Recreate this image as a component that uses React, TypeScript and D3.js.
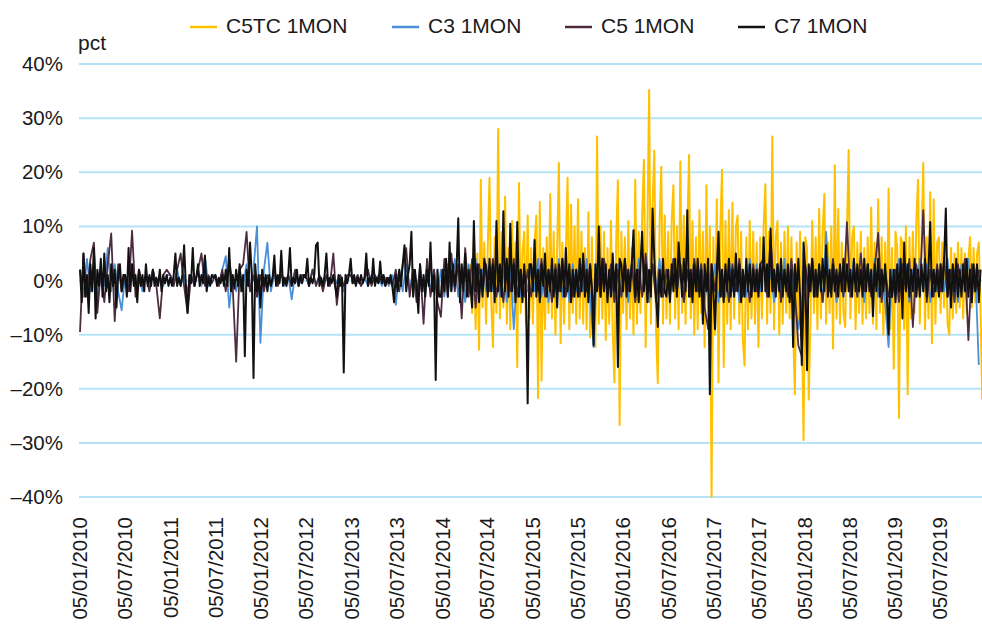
import React, { useEffect, useRef } from "react";
import * as d3 from "d3";

// x-axis tick dates (dd/mm/yyyy labels)
const tickDates = [
  "2010-01-05", "2010-07-05", "2011-01-05", "2011-07-05", "2012-01-05",
  "2012-07-05", "2013-01-05", "2013-07-05", "2014-01-05", "2014-07-05",
  "2015-01-05", "2015-07-05", "2016-01-05", "2016-07-05", "2017-01-05",
  "2017-07-05", "2018-01-05", "2018-07-05", "2019-01-05", "2019-07-05",
];
const yTicks = [40, 30, 20, 10, 0, -10, -20, -30, -40];

// series start dates and sampling step (days)
const firstDay = "2010-01-05";
const c5tcFirstDay = "2014-04-29";

// C5TC 1MON, weekly, from Apr 2014 (one line per half-year)
const c5tc = [
  3, -6, 8, -9, 5, -12.8, 18.6, -5, 7, -8,
  6, 19, -4, -12.3, 8, -6, 28, -7, 9, -5, 15.5, -8, 6, -9, 11, -4, 7, -16, 18, -6, 5, 9, -8, 12, -7, 6,
  -8, 7, 12, -21.7, 14.5, -18.5, 6, -9, 8, -6, 16, -7, 9, -10, 6, 21.7, -11.6, 7, -8, 5, 19, -9, 14, -6, 10, -8,
  15, -7, 9, -8, 6, -9, 12.6, -10.5, 8, -6, -12.3, 26.6, -8, 10, -7, 9, -11, 6, -8, 11, -9, -18.8, 7, 18.5, -26.7, 9,
  -6, 8, -9, 11, -7, 6, -10, 18.6, -8, 9, -6, 12, 22.3, -12.3, 9, 35.2, -8, 14, 24, -9, -19, 10, 21, -8, 12, -7,
  9, -8, 11, 17.6, -7, 10, -9, 22, -6, 12, -8, 9, 23.2, -7, 11, -10, 8, -9, 13, -6, 9, -12.3, 17.6, -9, 10, -40,
  8, -10, 15, -18.8, 9, 20.4, -16, 11, -8, 13, -9, 14.4, -7, 10, 12, -8, 9, -11, -15.7, 8, -9, 11, -7, 9, -8, 7,
  -12.3, 8, -7, 10, 17.8, -8, 9, -6, 26.6, -9, 8, 11, -10, 7, -8, 9, -6, 10, -7, 8, -9, -21, 7, -8, 9, -6,
  -29.5, 8, 6, -22, -7, 11, -6, 8, -9, 13.2, -7, 9, 16, -8, 7, -6, 10, -12.6, 21.3, -7, 13.2, -8, 7, -6, -8.6, 9,
  24.1, -7, 8, 10, -9, 7, -6, 9, -8, 6, -7, 8, -6, 13.5, -8, 7, -9, 15, -6, 8, -10, 7, -8, 17, -9, 6,
  -16.3, 9, 6, -25.4, 8, 7, -9, 10, -21, 8, -7, 9, -6, 11, 18.6, -8, 7, 21.7, -9, 8, -7, 16.3, -11.6, 15, -8, 7,
  8, -6, 7, -5, 6, -8, -10, 6, -7, 5, -6, 7, -5, 6, -7, 5, -6, 4, 8, -5, 6, -4, 5, 7, -5, -22,
];

// C3 1MON, every two weeks from Jan 2010
const c3 = [
  2, -3, 4, -2, 3, -4, 2, -1, 6, -2, 3, -2, -5.5,
  1, -2, 3, -1, 1, -2, 1, -1, 2, -1, 1, -1, 1,
  1, -1, 2, -1, 1, -2, 1, -1, 2, -1, 4.5, -1, 1,
  1, -1, 2, 4.5, -5, 1, -2, 2, -1, 3, -2, 2, 10,
  -11.5, 2, 7, -2, 1, -1, 2, -1, 1, -3.5, 1, -1, 1,
  1, -1, 2, -1, 1, -1, 0.5, -1, 1, -0.5, 1, -2, 1,
  1, -0.5, 1, -1, 0.5, -1, 1, -0.5, 1, -1, 0.5, -1, 1,
  -4.5, 2, -2, 3, -2, 2, -3, 2, -2, 3, -2, 2, -3,
  2, -3, 3, -2, 4, -3, 2, -4, 3, -2, 4, -3, 2,
  -2, 3, -2, 4, -3, 2, -4, 3, -9, 2, -3, 2, -2,
  3, -2, 4, -3, 2, -4, 3, -2, 4, -3, 2, -4, 3,
  -2, 3, -2, 4, -3, -12.3, 3, -2, 4, -3, 2, -4, 3,
  -3, 2, -4, 3, -2, 4, -3, 2, -4, 3, -2, 4, -3,
  2, -3, 4, -2, 3, -4, 2, -3, 4, -2, 3, -4, 2,
  -2, 3, -4, 2, -3, 4, -2, 3, -4, 2, -3, 4, -2,
  3, -2, 4, -3, 2, -4, 3, -2, 4, -3, 2, -4, -9,
  -4, 2, -3, 4, -2, 3, -4, 9, -2, 3, -4, 2, -3,
  3, -2, 4, -3, 2, -4, 3, -2, 4, -3, 2, -4, -12.3,
  2, -3, 4, -2, 3, -4, 2, -3, 4, -2, 3, -4, 2,
  -2, 3, -2, 4, -3, 2, -4, 3, -2, 4, -3, 2, -15.6,
];

// C5 1MON, every two weeks from Jan 2010
const c5 = [
  -9.5, 5, -3, 4, 7, -6, 2, -4, 3, 8.7, -7.5, 3, -2,
  1, -2, 9.2, -3, 2, -1, 1, -2, 2, -1, -7, 1, 2,
  1, -1, 2, 5, -1, -6, 1, -1, 2, 5, -1, 1, -0.5,
  1, -1, 2, -2, 4, -1, -15, 2, 3, 9, -2, 1, -3,
  1, -2, 1, -1, 2, -1, 1, -0.5, 1, -1, 2, -1, 1,
  1, -1, 2, -1, 1, -2, 1, -1, 5, -4.5, 1, -1, 1,
  1, -0.5, 1, -1, 0.5, 2, -1, 1, -0.5, 1, -1, 0.5, -1,
  2, -2, 3, 6, -3, 2, -4, 3, -8, 4, -3, 2, -4,
  -6.7, 4, -3, 5, -2, 3, -7, 6, -3, 4, -5, 3, -2,
  3, -2, 4, -3, 2, -4, 3, -2, 4, -3, 2, -3, 2,
  -3, 2, -2, 4, -3, 2, -4, 3, -2, 4, -3, 2, -3,
  2, -3, 4, -2, 3, -5, 2, -3, 4, -2, 3, -4, 2,
  -3, 4, -2, 3, -4, 2, -3, 5, -2, 3, -4, 2, -3,
  2, -3, 4, -2, 3, -4, 2, -3, 4, -2, 3, -5, -9,
  3, -2, 4, -3, 2, -4, 3, -2, 4, -3, 2, -4, 3,
  -2, 3, 4, -3, 8, -2, 3, -4, 2, -3, 4, -2, -12,
  -14, 3, -2, 4, -3, 2, -4, 3, -2, 4, -3, 2, -3,
  10.8, -3, 2, -3, 5, -2, 3, -3, 2, 8.8, -4, 2, -3,
  -3, 2, -4, 3, -2, 4, -8.6, 3, -2, 13, -4, 2, -3,
  3, -2, 4, -3, 2, -4, 3, -2, 4, -11, 3, -2, 2,
];

// C7 1MON, weekly from Jan 2010
const c7 = [
  2, -4, 5, -3, 1, -6, 3, -2, 6, -7, 2, -1, 4, -3, 5, -2, 1, -4, 3, -1, 2, -5, 1, 3, -2, 1,
  1, -3, 6, -2, 3, -1, 1, -4, 2, -1, 1, -2, 3, -1, 1, -1, 2, -1, 0.5, -1, 2, -2, 1, -0.5, 1, -1,
  0.5, -1, 1, 5, -1, 0.5, -1, 1, 6.5, -1, -6, 1, -0.5, 6, -1, 0.5, 3, -1, 1, -0.5, 4.6, -2, 0.5, -1, 1, 0.5,
  1, -1, 0.5, -0.5, 1, -1, 2, -1, 6, -2, 1, -1.5, 2, -1, 3, -2, 1, -14, 2, -1, 7, 1, -18, 3, -2, 1,
  -5, 2, -1, 1, -2, 1, -1, 0.5, 4.6, -1, 1, -0.5, 5.5, -1, 0.5, -1, 1, 6, -1, 0.5, -0.5, 2, -1, 1, -0.5, 1,
  0.5, 4, -1, 0.5, -0.5, 1, 6.5, 7, -1, 0.5, -1, 1, 5, -1, 0.5, -0.5, 1, -1, -3, 1, -1, 0.5, -17, 1, -0.5, 1,
  4, -0.5, 1, -1, 0.5, -0.5, 1, -0.5, 0.5, 5, -1, 0.5, -0.5, 4, -1, 0.5, -0.5, 3.5, -0.5, 1, -1, 0.5, -0.5, 1, -1, -4,
  1, -2, 2, -1, 3, 6.5, -2, 1, 3, 9, -3, 2, -1, -6, 3, -2, 1, -3, 2, -1, 7, -2, 1, -18.4, 2, -3,
  -3, 2, -2, 4, -3, 7, -2, 3, -1, 2, 11.5, -4, 3, -2, 5, -3, 2, -1, -5, 11, -2, 3, -4, 2, -3, 4,
  2, -3, 4, -2, 3, -4, 11, -2, 3, -3, 12.8, -2, 4, -3, 10.5, -2, 3, -4, 10.8, -3, 2, -4, 3, -2, -22.7, 3,
  3, -2, 7.5, -3, 2, -4, 3, -1, 5, -3, 2, -2, 4, -3, 2, -5, 3, -2, 4, -3, 6, -2, 3, -4, 2, -3,
  2, -3, 4, -2, 5, -3, 2, -4, 3, -2, -12, 3, -2, 10, -3, 4, -2, 3, -4, 2, -3, 5, -2, 3, -16, 4,
  3, -2, 4, -3, 2, -2, 3, 9.3, -3, 2, -4, 3, 9, -2, 3, -4, 2, -3, 13.3, 4, -3, -8.6, 2, -3, 4, -2,
  -3, 2, -4, 3, -2, 4, -3, 7, 2, -3, 4, -2, 13, -3, 2, -4, 3, -2, 4, -3, 2, -8, 3, -2, 4, -21,
  3, -2, -9, 2, 9, -3, 2, -4, 3, -2, 4, -3, 2, -3, 5, -2, 3, -4, 2, -3, 4, -2, 3, -3, 2, -2,
  2, -3, 3, -2, 8, -2, 3, -3, 9.6, -2, 2, -3, 3, -2, 4, -3, 2, -2, 3, -4, 2, -12.3, 3, -2, 4, -3,
  -15.6, 7, 2, -16.6, 3, -2, 4, -3, 2, -3, 3, -2, 4, -2, 6.5, -3, 2, -3, 3, -2, 2, -3, 3, -2, 4, -2,
  3, -2, 2, -3, 4, -2, 3, -2, 2, -3, 4, -2, 3, -2, 2, -6.6, 3, -2, 4, -3, 2, -2, 3, -3, -10, 2,
  -3, 2, -4, 3, -2, 4, -7, 7, -2, 3, -3, 2, -2, 4, -3, 2, -3, 3, -2, 4, -3, 2, 10.8, -3, 2, -2,
  2, -3, 3, -2, 4, 13.3, -3, 2, -5, 3, -2, 4, -3, 2, -3, 3, -2, 4, -3, 2, -4, 3, -2, 3, -4, 2,
];

const seriesList = [
  { name: "C5TC 1MON", color: "#ffc000", start: c5tcFirstDay, step: 7, values: c5tc, width: 2 },
  { name: "C3 1MON", color: "#4a90d9", start: firstDay, step: 14, values: c3, width: 1.8 },
  { name: "C5 1MON", color: "#4e2c40", start: firstDay, step: 14, values: c5, width: 1.8 },
  { name: "C7 1MON", color: "#111111", start: firstDay, step: 7, values: c7, width: 2 },
];

const legendX = [190, 392, 565, 738];

const W = 982;
const H = 624;
const font = "'Liberation Sans', Arial, sans-serif";

const App = () => {
  const ref = useRef(null);

  useEffect(() => {
    const svg = d3.select(ref.current);
    svg.selectAll("*").remove();

    const parse = d3.timeParse("%Y-%m-%d");
    const fmt = d3.timeFormat("%d/%m/%Y");

    const x = d3.scaleTime()
      .domain([parse("2010-01-05"), parse("2019-12-31")])
      .range([80, 984]);
    const y = d3.scaleLinear().domain([-40, 40]).range([497, 64]);

    const left = 79, right = 982;

    // gridlines
    svg.append("g")
      .selectAll("line")
      .data(yTicks)
      .enter()
      .append("line")
      .attr("x1", left)
      .attr("x2", right)
      .attr("y1", d => y(d))
      .attr("y2", d => y(d))
      .attr("stroke", "#b6e4f6")
      .attr("stroke-width", 2);

    // y labels
    svg.append("g")
      .selectAll("text")
      .data(yTicks)
      .enter()
      .append("text")
      .attr("x", 63)
      .attr("y", d => y(d) + 7)
      .attr("text-anchor", "end")
      .attr("font-family", font)
      .attr("font-size", 20.5)
      .attr("fill", "#1a1a1a")
      .text(d => (d < 0 ? "\u2013" + Math.abs(d) : d) + "%");

    svg.append("text")
      .attr("x", 78)
      .attr("y", 50)
      .attr("font-family", font)
      .attr("font-size", 21)
      .attr("fill", "#1a1a1a")
      .text("pct");

    // x labels
    svg.append("g")
      .selectAll("text")
      .data(tickDates.map(d => parse(d)))
      .enter()
      .append("text")
      .attr("transform", d => `translate(${x(d)},517) rotate(-90)`)
      .attr("dy", "0.36em")
      .attr("text-anchor", "end")
      .attr("font-family", font)
      .attr("font-size", 20.5)
      .attr("fill", "#1a1a1a")
      .text(d => fmt(d));

    svg.append("clipPath")
      .attr("id", "plot-clip")
      .append("rect")
      .attr("x", left)
      .attr("y", 40)
      .attr("width", right - left)
      .attr("height", 470);

    const plot = svg.append("g").attr("clip-path", "url(#plot-clip)");

    seriesList.forEach(s => {
      const t0 = parse(s.start);
      const pts = s.values.map((v, i) => [d3.timeDay.offset(t0, i * s.step), v]);
      const line = d3.line()
        .x(d => x(d[0]))
        .y(d => y(d[1]));
      plot.append("path")
        .datum(pts)
        .attr("d", line)
        .attr("fill", "none")
        .attr("stroke", s.color)
        .attr("stroke-width", s.width)
        .attr("stroke-linejoin", "round");
    });

    // legend
    const legend = svg.append("g");
    seriesList.forEach((s, i) => {
      legend.append("line")
        .attr("x1", legendX[i])
        .attr("x2", legendX[i] + 27)
        .attr("y1", 27)
        .attr("y2", 27)
        .attr("stroke", s.color)
        .attr("stroke-width", 2.5);
      legend.append("text")
        .attr("x", legendX[i] + 36)
        .attr("y", 33)
        .attr("font-family", font)
        .attr("font-size", 21)
        .attr("fill", "#1a1a1a")
        .text(s.name);
    });
  }, []);

  return (
    <svg
      ref={ref}
      width={W}
      height={H}
      style={{ position: "absolute", left: 0, top: 0, background: "#fff" }}
    />
  );
};

export default App;
